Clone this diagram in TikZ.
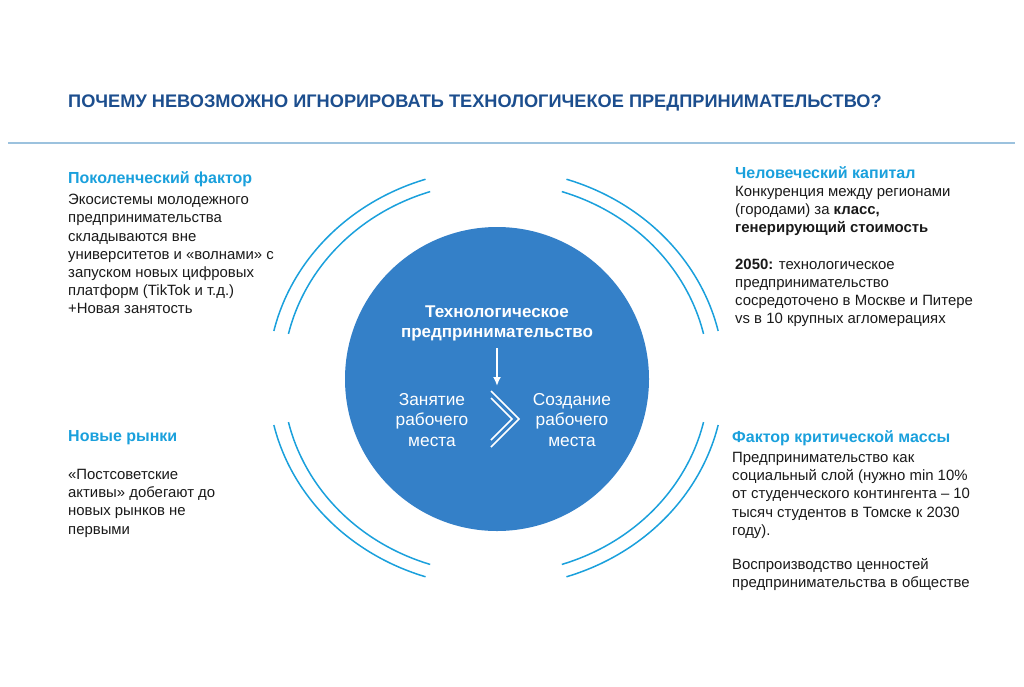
\documentclass[tikz,border=0pt]{standalone}
\usepackage{fontspec}
\setmainfont{Liberation Sans}
\usetikzlibrary{calc,arrows.meta}
\begin{document}
\begin{tikzpicture}[x=1pt,y=-1pt,
  head/.style={anchor=west,text=cyanh,font=\bfseries\fontsize{16}{18}\selectfont,inner sep=0},
  body/.style={anchor=north west,align=left,font=\fontsize{14.9}{18.2}\selectfont,inner sep=0,text=black!90},
  arcl/.style={draw=cyanh,line width=1.5pt},
  wtext/.style={text=white,align=center,inner sep=0}]
\definecolor{cyanh}{HTML}{1AA0DC}
\definecolor{titleb}{HTML}{1C4E8E}
\definecolor{circb}{HTML}{3480C8}
\definecolor{rule}{HTML}{9CC2DE}
\useasboundingbox (0,0) rectangle (1024,686);
\node[anchor=west,text=titleb,font=\bfseries\fontsize{18.2}{20}\selectfont,inner sep=0] (title) at (68,103) {ПОЧЕМУ НЕВОЗМОЖНО ИГНОРИРОВАТЬ ТЕХНОЛОГИЧЕКОЕ ПРЕДПРИНИМАТЕЛЬСТВО?};
\draw[rule,line width=1.2pt] (8,143) -- (1015,143);
% arcs
\coordinate (c) at (496,378);
\foreach \s/\e in {108/167,13/72,193/252,288/347}{
  \draw[arcl] ($(c)+({228*cos(\s)},{-209*sin(\s)})$) arc[start angle=-\s,end angle=-\e,x radius=228,y radius=209];
  \draw[arcl] ($(c)+({213*cos(\s)},{-196*sin(\s)})$) arc[start angle=-\s,end angle=-\e,x radius=213,y radius=196];
}
% circle
\fill[circb] (497,379) circle (152);
\node[wtext,font=\bfseries\fontsize{17}{20}\selectfont] (tech) at (497,323) {Технологическое\\предпринимательство};
\draw[white,line width=1.8pt,-{Latex[length=9pt,width=8pt]}] (497,348) -- (497,386);
\node[wtext,font=\fontsize{17.3}{20.5}\selectfont] (zan) at (432,420) {Занятие\\рабочего\\места};
\node[wtext,font=\fontsize{17.3}{20.5}\selectfont] (soz) at (572,420) {Создание\\рабочего\\места};
\draw[white,line width=1.5pt] (491,391) -- (519,419) -- (491,447);
\draw[white,line width=1.5pt] (491,398) -- (512,419) -- (491,440);
% left top
\node[head] (h1) at (68,179) {Поколенческий фактор};
\node[body] (b1) at (68,194) {Экосистемы молодежного\\предпринимательства\\складываются вне\\университетов и «волнами» с\\запуском новых цифровых\\платформ (TikTok и т.д.)\\+Новая занятость};
% right top
\node[head] (h2) at (735,173) {Человеческий капитал};
\node[body] (b2) at (735,186) {Конкуренция между регионами\\(городами) за \textbf{класс,}\\\textbf{генерирующий стоимость}\\[18.2pt]\textbf{2050:} технологическое\\предпринимательство\\сосредоточено в Москве и Питере\\vs в 10 крупных агломерациях};
% left bottom
\node[head] (h3) at (68,438) {Новые рынки};
\node[body] (b3) at (68,469) {«Постсоветские\\активы» добегают до\\новых рынков не\\первыми};
% right bottom
\node[head] (h4) at (732,438) {Фактор критической массы};
\node[body] (b4) at (732,452) {Предпринимательство как\\социальный слой (нужно min 10\%\\от студенческого контингента – 10\\тысяч студентов в Томске к 2030\\году).\\[16pt]Воспроизводство ценностей\\предпринимательства в обществе};
\end{tikzpicture}
\end{document}
